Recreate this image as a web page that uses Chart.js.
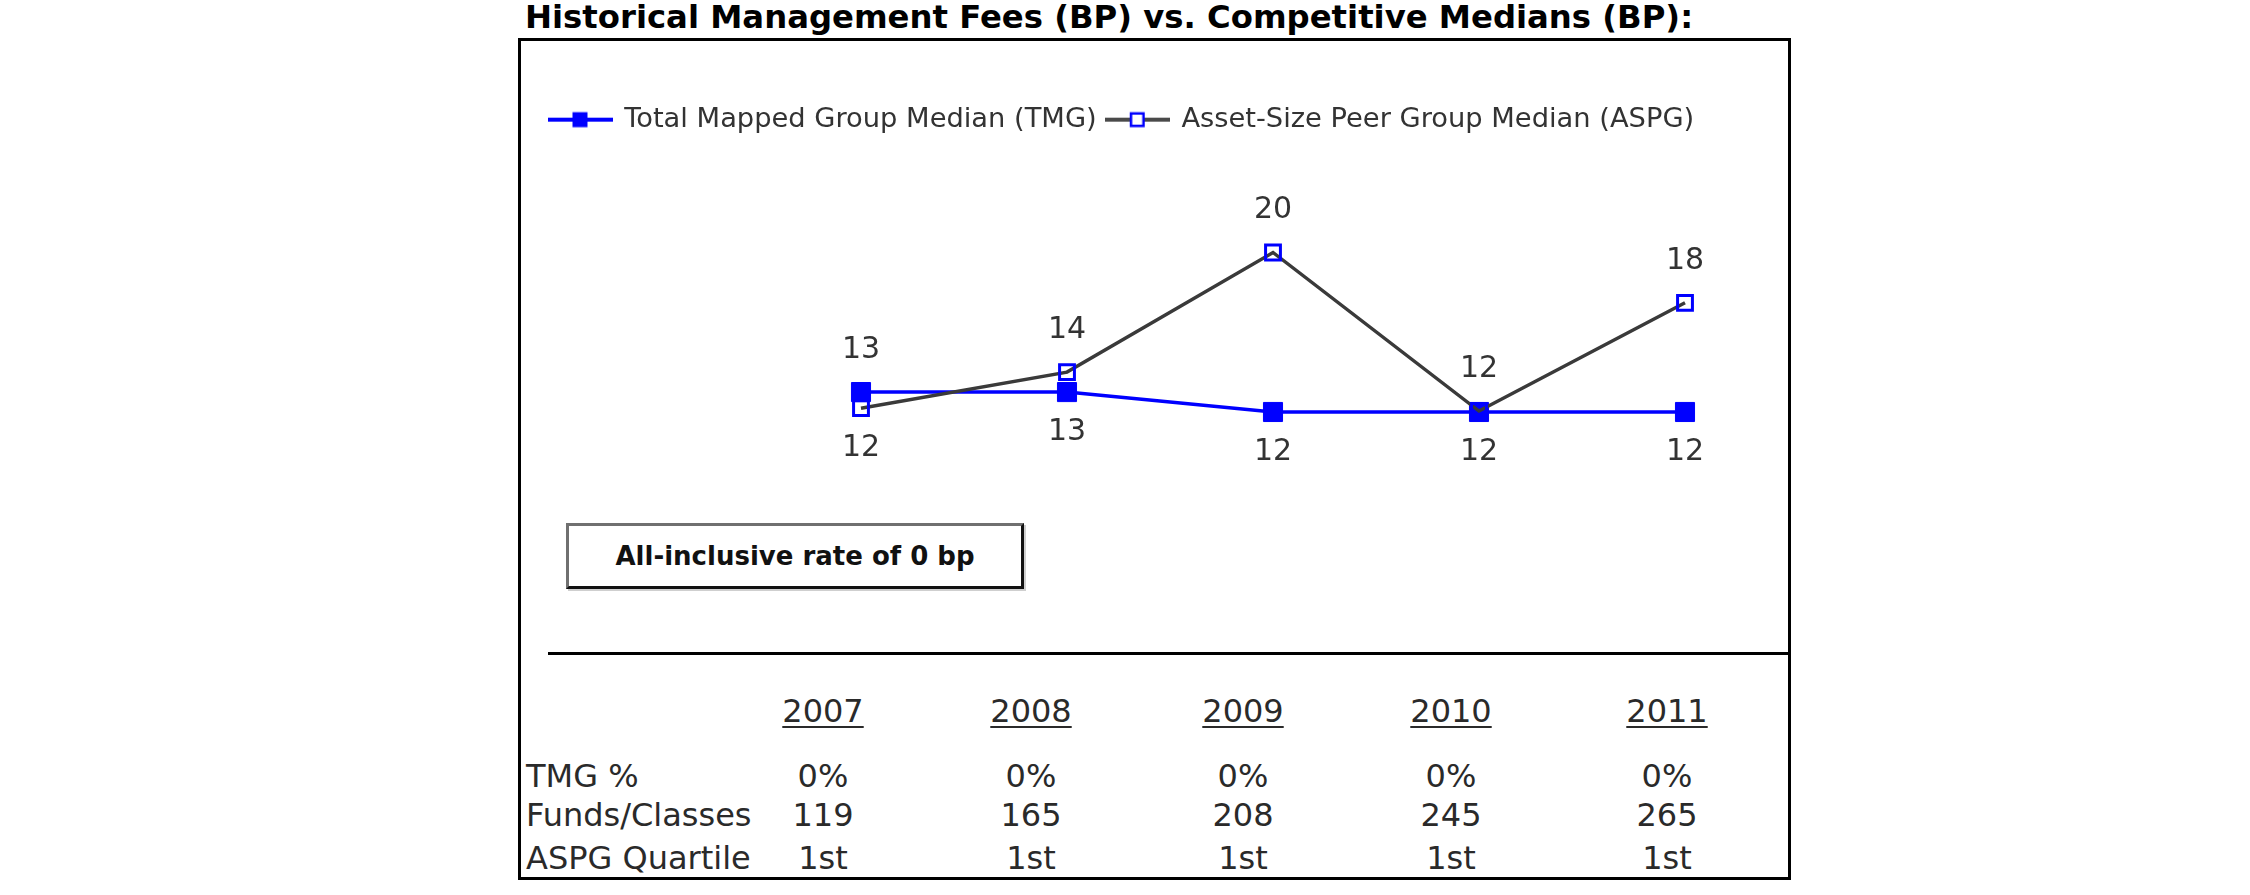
<!DOCTYPE html>
<html><head><meta charset="utf-8">
<script src="https://cdn.jsdelivr.net/npm/chart.js@4.4.1/dist/chart.umd.min.js"></script>
<style>
html,body{margin:0;padding:0;background:#fff;width:2250px;height:895px;overflow:hidden;font-family:"DejaVu Sans",sans-serif;}
#wrap{position:relative;width:2250px;height:895px;}
.abs{position:absolute;white-space:nowrap;}
#title{left:525px;top:1px;font-weight:bold;font-size:32.3px;line-height:32.3px;color:#000;}
#frame{left:518px;top:38px;width:1273px;height:842px;box-sizing:border-box;border:3px solid #000;}
#sep{left:548px;top:652px;width:1240px;height:3px;background:#000;}
#note{left:566px;top:523px;width:458px;height:66px;box-sizing:border-box;border-top:3px solid #707070;border-left:3px solid #707070;border-right:3px solid #111;border-bottom:3px solid #111;box-shadow:2px 2px 0 #cfcfcf;background:#fff;display:flex;align-items:center;justify-content:center;font-weight:bold;font-size:26px;color:#111;}
.cell{font-size:32px;line-height:32px;color:#2a2a2a;transform:translate(-50%,-50%);}
.rowlab{font-size:32px;line-height:32px;color:#2a2a2a;transform:translateY(-50%);}
.yr{text-decoration:underline;text-decoration-thickness:2px;text-underline-offset:4px;}
#c{position:absolute;left:0;top:0;}
</style></head>
<body>
<div id="wrap">
  <div id="title" class="abs">Historical Management Fees (BP) vs. Competitive Medians (BP):</div>
  <div id="frame" class="abs"></div>
  <div id="sep" class="abs"></div>
  <div id="note" class="abs">All-inclusive rate of 0 bp</div>
  <div id="table"></div>
  <canvas id="c" width="2250" height="895"></canvas>
</div>
<script>
// ---- data ----
const years = ["2007", "2008", "2009", "2010", "2011"];
const seriesNames = ["Total Mapped Group Median (TMG)", "Asset-Size Peer Group Median (ASPG)"];
const tmg  = [12.9, 12.9, 11.85, 11.85, 11.85];
const aspg = [12.05, 13.95, 20.25, 11.9, 17.6];
const rowLabels = ["TMG %", "Funds/Classes", "ASPG Quartile"];
const tmgPct = ["0%", "0%", "0%", "0%", "0%"];
const fundsClasses = ["119", "165", "208", "245", "265"];
const aspgQuartile = ["1st", "1st", "1st", "1st", "1st"];

// ---- table layout (HTML text) ----
const colX = [823, 1031, 1243, 1451, 1667];
const yearY = 711;
const rowY = [776, 815, 858];
const rowLabelX = 526;
const tbl = document.getElementById('table');
function addDiv(cls, text, x, y) {
  const d = document.createElement('div');
  d.className = 'abs ' + cls;
  d.textContent = text;
  d.style.left = x + 'px';
  d.style.top = y + 'px';
  tbl.appendChild(d);
}
years.forEach((yv, i) => addDiv('cell yr', yv, colX[i], yearY));
const rows = [tmgPct, fundsClasses, aspgQuartile];
rowLabels.forEach((lab, r) => {
  addDiv('rowlab', lab, rowLabelX, rowY[r]);
  rows[r].forEach((v, i) => addDiv('cell', v, colX[i], rowY[r]));
});

// ---- legend marker images ----
function markerImage(lineColor, filled) {
  const cv = document.createElement('canvas');
  cv.width = 65; cv.height = 18;
  const g = cv.getContext('2d');
  g.fillStyle = lineColor;
  g.fillRect(0, 7, 65, 4);
  if (filled) {
    g.fillStyle = '#0000ff';
    g.fillRect(25, 1.5, 15, 15);
  } else {
    g.fillStyle = '#ffffff';
    g.fillRect(26.25, 2.75, 12.5, 12.5);
    g.strokeStyle = '#0000ff';
    g.lineWidth = 2.5;
    g.strokeRect(26.25, 2.75, 12.5, 12.5);
  }
  return cv;
}
const legendImgs = [markerImage('#0000ff', true), markerImage('#4a4a4a', false)];

// ---- value labels plugin ----
const valueLabels = {
  id: 'valueLabels',
  afterDatasetsDraw(chart) {
    const c = chart.ctx;
    const m0 = chart.getDatasetMeta(0), m1 = chart.getDatasetMeta(1);
    c.save();
    c.font = '30px "DejaVu Sans"';
    c.fillStyle = '#333';
    c.textAlign = 'center';
    c.textBaseline = 'middle';
    years.forEach((_, i) => {
      const a = {p: m0.data[i], v: tmg[i]};
      const b = {p: m1.data[i], v: aspg[i]};
      const hi = a.v > b.v ? a : b;
      const lo = a.v > b.v ? b : a;
      c.fillText(String(Math.round(hi.v)), hi.p.x, hi.p.y - 42);
      c.fillText(String(Math.round(lo.v)), lo.p.x, lo.p.y + 40);
    });
    c.restore();
  }
};

new Chart(document.getElementById('c'), {
  type: 'line',
  data: {
    labels: years,
    datasets: [
      {
        label: seriesNames[0], data: tmg,
        borderColor: '#0000ff', backgroundColor: '#0000ff', borderWidth: 3.5, tension: 0,
        pointStyle: 'rect', pointRadius: 13.5, pointBorderWidth: 1,
        pointBackgroundColor: '#0000ff', pointBorderColor: '#0000ff', order: 1
      },
      {
        label: seriesNames[1], data: aspg,
        borderColor: '#3a3a3a', backgroundColor: 'rgba(0,0,0,0)', borderWidth: 3.5, tension: 0,
        pointStyle: 'rect', pointRadius: 10.5, pointBorderWidth: 3,
        pointBackgroundColor: 'rgba(0,0,0,0)', pointBorderColor: '#0000ff', order: 0
      }
    ]
  },
  options: {
    responsive: false, animation: false, devicePixelRatio: 1,
    layout: {padding: {left: 539.5, right: 0, top: 96, bottom: 258}},
    plugins: {
      tooltip: {enabled: false},
      legend: {
        display: true, position: 'top', align: 'start',
        labels: {
          usePointStyle: true, pointStyleWidth: 61, padding: 10,
          color: '#333', font: {family: 'DejaVu Sans', size: 27.3},
          generateLabels: () => seriesNames.map((n, i) => ({
            text: n, pointStyle: legendImgs[i], fillStyle: 'rgba(0,0,0,0)',
            strokeStyle: 'rgba(0,0,0,0)', lineWidth: 0, hidden: false, datasetIndex: i, fontColor: '#333'
          }))
        }
      }
    },
    scales: {
      x: {display: false, offset: false},
      y: {
        display: true, position: 'left', min: 0, max: 26,
        ticks: {display: false}, grid: {display: false}, border: {display: false},
        afterFit(s) { s.width = 321.5; }
      },
      yR: {
        display: true, position: 'right',
        ticks: {display: false}, grid: {display: false}, border: {display: false},
        afterFit(s) { s.width = 565; }
      }
    }
  },
  plugins: [valueLabels]
});
</script>
</body></html>
